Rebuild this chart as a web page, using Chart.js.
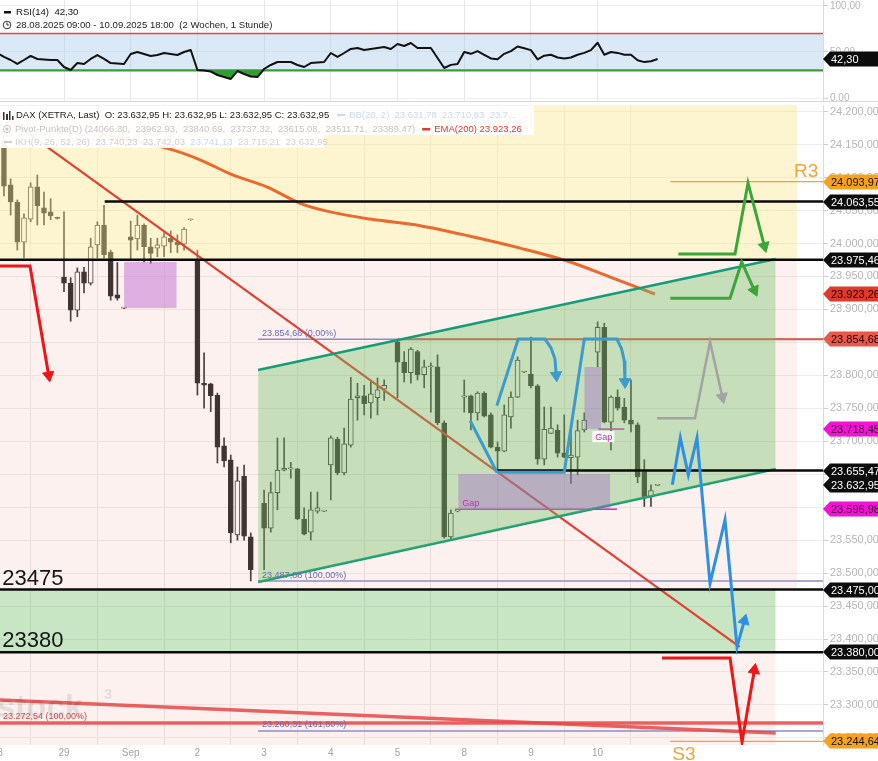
<!DOCTYPE html>
<html><head><meta charset="utf-8">
<script src="https://cdn.jsdelivr.net/npm/chart.js@4.4.1/dist/chart.umd.min.js"></script>
<style>
html,body{margin:0;padding:0;background:#fff;width:878px;height:761px;overflow:hidden;font-family:"Liberation Sans",Arial,sans-serif}
#rsiWrap{position:absolute;left:0;top:0;width:878px;height:102px}
#mainWrap{position:absolute;left:0;top:102px;width:878px;height:659px}
canvas{display:block}
</style></head><body>
<div id="rsiWrap"><canvas id="rsi" width="878" height="102"></canvas></div>
<div id="mainWrap"><canvas id="main" width="878" height="659"></canvas></div>
<script>
// ---------- DATA ----------
const dayTicks  = [0,10,20,30,40,50,60,70,80,90];
const dayLabels = ['28','29','Sep','2','3','4','5','8','9','10'];
const priceTicks = [23250,23300,23350,23400,23450,23500,23550,23600,23650,23700,23750,23800,23850,23900,23950,24000,24050,24100,24150,24200];
const rsiTicks = [0,50,100];

// hourly candles, slot 0 = 28.08. 09:00 (10 slots per day)
const openP = [null,24157,24089,24063,24002,24037,24086,24054,24048,24039,
 23949,23940,23899,23957,23940,23998,24028,23987,23922,23902,
 24010,24007,24028,23995,23993,23996,24008,24002,23999,24036,
 23975,23788,23787,23770,23693,23672,23558,23647,23555,null,
 23606,23568,23622,23656,23658,23658,23582,23562,23594,23594,
 23664,23703,23652,23694,23766,23769,23758,23766,23779,null,
 23851,23820,23804,23836,23801,23813,23813,23728,23555,23594,
 23767,23769,23743,23773,23740,23691,23685,23737,23767,23805,
 23802,23784,23673,23712,23717,23682,23675,23676,23717,null,
 23835,23873,23729,23767,23752,23732,23725,23654,23616,23632.95];
const highP = [null,24164,24098,24066,24045,24092,24104,24078,24068,24040,
 24048,23948,23963,23964,24008,24033,24058,23990,23971,23903,
 24034,24043,24030,24008,24008,24016,24019,24013,24024,24037,
 23990,23834,23788,23773,23705,23679,23661,23664,23561,null,
 23626,23638,23705,23705,23668,23659,23599,23623,23623,23595,
 23708,23706,23720,23797,23788,23785,23790,23796,23793,null,
 23854.68,23836,23842,23838,23823,23819,23831,23731,23596,23595,
 23793,23770,23775,23775,23743,23699,23755,23775,23828,23806,
 23858,23786,23752,23752,23725,23740,23725,23732,23743,null,
 23881,23879,23769,23778,23765,23793,23728,23672,23634,23633.5];
const lowP = [null,24072,24043,23990,23978,24033,24028,24028,24036,24037,
 23927,23882,23889,23925,23937,23978,23978,23914,23914,23901,
 23975,23990,23972,23970,23980,23980,23986,23986,23990,24035,
 23770,23750,23745,23667,23661,23546,23550,23550,23488,null,
 23505,23562,23596,23655,23644,23581,23558,23550,23591,23593,
 23611,23649,23649,23691,23732,23740,23735,23740,23762,null,
 23766,23790,23788,23793,23781,23744,23725,23553,23552,23593,
 23744,23717,23732,23737,23690,23655.47,23684,23720,23766,23804,
 23781,23665,23664,23712,23676,23675,23636,23649,23714,null,
 23813,23728,23687,23747,23728,23714,23637,23601,23601,23632.5];
const closeP = [null,24087,24063,24002,24039,24086,24057,24046,24042,24038,
 23940,23899,23957,23940,23995,24028,23983,23920,23917,23902,
 24005,24028,23995,23985,23998,24010,24002,23998,24022,24036,
 23788,23785,23769,23691,23670,23561,23640,23556,23505,null,
 23568,23622,23656,23659,23658,23582,23559,23596,23599,23594,
 23705,23652,23696,23764,23769,23757,23772,23778,23785,null,
 23820,23804,23840,23801,23813,23814,23728,23555,23591,23594,
 23769,23743,23773,23738,23691,23685,23740,23767,23823,23805,
 23784,23673,23718,23720,23682,23676,23679,23716,23732,null,
 23873,23729,23767,23750,23732,23726,23646,23616,23625,23632.95];

const rsi14 = [48.9,44.6,41.3,37.0,41.3,45.7,42.4,41.8,41.3,41.3,
 33.7,30.4,38.0,37.0,42.4,46.7,42.4,38.0,37.5,37.0,
 47.8,50.0,47.8,45.7,46.7,48.9,47.8,46.7,50.0,52.2,
 30.4,29.9,28.8,25.0,22.8,20.7,29.3,26.1,23.4,22.8,
 31.5,35.9,39.1,39.1,39.1,35.9,33.7,38.0,38.6,39.1,
 48.9,44.6,48.9,53.3,54.3,52.2,53.3,54.3,55.4,53.3,
 58.7,56.5,59.8,54.3,54.3,54.3,43.5,32.6,36.0,37.0,
 50.0,48.0,51.0,47.0,43.0,42.0,48.0,51.0,56.0,54.0,
 52.0,42.0,46.0,47.0,44.0,43.0,44.0,47.0,49.0,52.0,
 60.0,47.0,50.0,49.0,47.0,47.0,41.0,39.0,40.0,42.3];
const rsiUpper = 70, rsiLower = 30, rsiLast = 42.30;

// indicator / drawing points [slot, price]
const ema200 = [[15,24168],[19.9,24157],[26.3,24142],[30.4,24127],[35.3,24104],[40.4,24086],[45.4,24061],[49.9,24048],[55.9,24037],[63.4,24027],[70.9,24011],[78.4,23993],[85.9,23972],[91.9,23949],[98.6,23923.26]];
const trendDown = [[0.4,24198],[111.3,23388]];
const trendLow = [[0.4,23307.5],[116.7,23257.4]];
const channelUpper = [[39.1,23808],[116.7,23976.6]];
const channelLower = [[39.1,23486.6],[116.7,23658]];

const blackLevels = [24063.55,23975.46,23655.47,23475.00,23380.00];
const blackStarts = [16.1,0.4,74.9,0.4,0.4];
const pivotR3 = 24093.97, pivotS3 = 23244.64, pivotStart = 100.9;
const fibLevels = [23854.68,23487.88,23260.31];
const fibStart = 39.1;
const redLevel = 23854.68, redLevelStart = 60;
const red100 = 23272.54;
const gapLines = [[68.6,92.9,23596.98],[90.1,94.0,23718.45]];

const zoneUpperEnd = 119.9, zoneLowerEnd = 116.7;
const zoneYellow = [24300,23975.46];
const zonePink1 = [23975.46,23475];
const zoneGreen = [23475,23380];
const zonePink2 = [23380,23150];
const gapRectA = [19.0,26.9,23972,23902];
const gapRectB = [69.1,91.9,23650.4,23596.98];
const gapRectC = [88.0,90.5,23812.6,23718.45];

const arrowRedLeft = [[0.4,23966],[4.9,23966],[7.7,23800]];
const arrowGreen1 = [[102.1,23984],[110.6,23984],[112.55,24092],[115.0,23996]];
const arrowGreen2 = [[100.9,23917],[109.85,23917],[111.6,23972],[113.5,23929]];
const arrowGrey = [[98.9,23735],[104.6,23735],[106.85,23851],[108.7,23767]];
const arrowBlueM = [[101.2,23634],[102.4,23705],[103.6,23649],[104.9,23705],[106.85,23484],[109.1,23581],[110.9,23388],[112.0,23428]];
const arrowRedLow = [[99.65,23371],[109.85,23371],[111.65,23244],[113.5,23353]];
const dtLeftLeg = [[70.9,23731],[74.9,23653]];
const dtHump1 = [[74.9,23754],[78.1,23855],[82.1,23855],[83.0,23842],[83.6,23825],[83.8,23800]];
const dtHump2 = [[74.9,23653],[85.0,23653],[88.0,23855],[92.9,23855],[93.6,23840],[94.0,23822],[94.1,23790]];

const priceTags = [24093.97,24063.55,23975.46,23923.26,23854.68,23718.45,23655.47,23632.95,23596.98,23475.00,23380.00,23244.64];
const tagKinds  = ['pivot','level','level','ema','red','gap','level','last','gap','level','level','pivot'];
const bigLevelLabels = [23475,23380];

// ---------- HELPERS ----------
function de(v, d){ d = d===undefined?2:d; const s=Math.abs(v).toFixed(d).split('.'); s[0]=s[0].replace(/\B(?=(\d{3})+(?!\d))/g,'.'); return (v<0?'-':'')+s[0]+(d?','+s[1]:''); }
const FONT = '"Liberation Sans", Arial, sans-serif';
const tagStyle = {pivot:['#f6a21d','#111'], level:['#0c0c0c','#fff'], ema:['#e03a2c','#2a0000'], red:['#e8594b','#2a0000'], gap:['#f214d4','#3a0030'], last:['#0c0c0c','#fff']};

function lineDS(pts, color, width, order, extra){
  return Object.assign({type:'line', data: pts.map(p=>({x:p[0], y:p[1]})), borderColor: color, borderWidth: width,
    pointRadius:0, pointHoverRadius:0, fill:false, tension:0, order: order, borderCapStyle:'butt', borderJoinStyle:'round'}, extra||{});
}
function rectDS(r, color, order){
  return lineDS([[r[0],r[2]],[r[1],r[2]]], 'rgba(0,0,0,0)', 0, order, {fill:{value:r[3]}, backgroundColor: color});
}
function zoneDS(x1, band, color, order){
  return lineDS([[0.0,band[0]],[x1,band[0]]], 'rgba(0,0,0,0)', 0, order, {fill:{value:band[1]}, backgroundColor: color});
}
function arrowDS(pts, color, width, order){
  const n = pts.length;
  return lineDS(pts, color, width, order, {
    borderJoinStyle:'miter',
    pointRadius: pts.map((_,k)=> k===n-1 ? 6.5 : 0),
    pointStyle:'triangle', pointBackgroundColor: color, pointBorderColor: color, pointBorderWidth:1,
    pointRotation: (c)=>{
      const d=c.dataset.data, k=c.dataIndex; if(!k) return 0;
      const xs=c.chart.scales.x, ys=c.chart.scales.y;
      const dx=xs.getPixelForValue(d[k].x)-xs.getPixelForValue(d[k-1].x);
      const dy=ys.getPixelForValue(d[k].y)-ys.getPixelForValue(d[k-1].y);
      return Math.atan2(dx,-dy)*180/Math.PI;
    }
  });
}

// ---------- CANDLES ----------
const wickData=[], bodyData=[], bodyFill=[];
for(let i=0;i<openP.length;i++){
  if(openP[i]==null) continue;
  wickData.push({x:i, y:[lowP[i], highP[i]]});
  bodyData.push({x:i, y:[Math.min(openP[i],closeP[i]), Math.max(openP[i],closeP[i])]});
  bodyFill.push(closeP[i]>=openP[i] ? '#ffffff' : '#1b1b1b');
}

const XMIN = 0.405, XMAX = 123.79;
const xAxisBase = {
  type:'linear', min:XMIN, max:XMAX, offset:false,
  afterBuildTicks: s=>{ s.ticks = dayTicks.filter(v=>v>=XMIN).map(v=>({value:v})); },
  ticks:{display:false},
  grid:{color:'#e7e7e7', drawTicks:false}, border:{display:false}
};

// ---------- MAIN CHART ----------
const datasets = [];
datasets.push({type:'bar', data: wickData, backgroundColor:'#2a2a2a', barThickness:1, grouped:false, order:100, borderWidth:0});
datasets.push({type:'bar', data: bodyData, backgroundColor: bodyFill, borderColor:'#222', borderWidth:1, borderSkipped:false, barThickness:5, grouped:false, minBarLength:1, order:99});
datasets.push(zoneDS(zoneUpperEnd, zoneYellow, 'rgba(250,232,150,0.45)', 90));
datasets.push(zoneDS(zoneUpperEnd, zonePink1, 'rgba(240,170,160,0.17)', 90));
datasets.push(zoneDS(zoneLowerEnd, zoneGreen, 'rgba(110,190,100,0.38)', 90));
datasets.push(zoneDS(zoneLowerEnd, zonePink2, 'rgba(240,170,160,0.17)', 90));
datasets.push(rectDS(gapRectA, 'rgba(200,120,215,0.55)', 85));
fibLevels.forEach(v=> datasets.push(lineDS([[fibStart,v],[XMAX+1,v]], '#8c8cc8', 1.5, 62)));
datasets.push(lineDS([[redLevelStart,redLevel],[XMAX+1,redLevel]], '#dc5a46', 2, 61));
datasets.push(lineDS([[0,red100],[XMAX+1,red100]], 'rgba(230,70,70,0.85)', 3.5, 61));
datasets.push(lineDS(trendLow, 'rgba(230,70,70,0.85)', 3.5, 60));
datasets.push(lineDS(ema200, '#ea6a2e', 3, 60, {tension:0.4, cubicInterpolationMode:'monotone'}));
datasets.push(lineDS(trendDown, '#e2402e', 2.2, 60));
gapLines.forEach(g=> datasets.push(lineDS([[g[0],g[2]],[g[1],g[2]]], '#e024c8', 1.5, 58)));
datasets.push(lineDS(channelUpper, '#159c78', 2.5, 50, {fill:'+1', backgroundColor:'rgba(110,190,100,0.38)'}));
datasets.push(lineDS(channelLower, '#159c78', 2.5, 50));
datasets.push(rectDS(gapRectB, 'rgba(160,100,200,0.40)', 45));
datasets.push(rectDS(gapRectC, 'rgba(160,100,200,0.40)', 45));
blackLevels.forEach((v,k)=> datasets.push(lineDS([[blackStarts[k],v],[XMAX+1,v]], '#0a0a0a', 2.5, 30)));
datasets.push(lineDS([[pivotStart,pivotR3],[XMAX+1,pivotR3]], '#f3a42a', 1.2, 30));
datasets.push(lineDS([[pivotStart,pivotS3],[XMAX+1,pivotS3]], '#f3a42a', 1.2, 30));
datasets.push(lineDS(dtLeftLeg, '#3b9ccb', 3, 20));
datasets.push(arrowDS(dtHump1, '#3b9ccb', 3, 20));
datasets.push(arrowDS(dtHump2, '#3b9ccb', 3, 20));
datasets.push(arrowDS(arrowGreen1, '#3ba63a', 3, 20));
datasets.push(arrowDS(arrowGreen2, '#3ba63a', 3, 20));
datasets.push(arrowDS(arrowGrey, '#a3a3a3', 2.5, 20));
datasets.push(arrowDS(arrowBlueM, '#2f8fe3', 3, 20));
datasets.push(arrowDS(arrowRedLow, '#f01414', 3, 20));
datasets.push(arrowDS(arrowRedLeft, '#f01414', 3, 20));

const mainPlugin = {
  id:'mainDeco',
  afterDraw(chart){
    const {ctx} = chart, xs=chart.scales.x, ys=chart.scales.y, ca=chart.chartArea;
    ctx.save();
    // axis labels
    ctx.font = '10px '+FONT; ctx.fillStyle='#a3a3a3'; ctx.textAlign='center'; ctx.textBaseline='middle';
    dayTicks.forEach((v,k)=> ctx.fillText(dayLabels[k], xs.getPixelForValue(v), ca.bottom+8));
    ctx.font = '11px '+FONT; ctx.fillStyle='#b5b5b5'; ctx.textAlign='left';
    priceTicks.forEach(v=> ctx.fillText(de(v), ca.right+7, ys.getPixelForValue(v)));
    ctx.textAlign='left'; ctx.textBaseline='alphabetic';
    // watermark
    ctx.font = 'bold 33px '+FONT; ctx.fillStyle='rgba(0,0,0,0.09)';
    ctx.fillText('stock', -3, ys.getPixelForValue(23300)+13);
    ctx.font = 'bold 15px '+FONT; ctx.fillText('3', 104, ys.getPixelForValue(23300)-6);
    // big level labels
    ctx.font = '22px '+FONT; ctx.fillStyle='#151515';
    bigLevelLabels.forEach(v=> ctx.fillText(String(v), xs.getPixelForValue(0.75), ys.getPixelForValue(v)-5));
    // pivot labels
    ctx.font = '19px '+FONT; ctx.fillStyle='#f1a43a';
    ctx.textAlign='right'; ctx.fillText('R3', xs.getPixelForValue(123.1), ys.getPixelForValue(pivotR3)-5);
    ctx.textAlign='left'; ctx.fillText('S3', xs.getPixelForValue(101.2), ys.getPixelForValue(pivotS3)+19);
    // fib labels
    ctx.font = '9px '+FONT; ctx.fillStyle='#6a6ab0';
    const fibPct = ['0,00%','100,00%','161,80%'];
    fibLevels.forEach((v,k)=> ctx.fillText(de(v)+' ('+fibPct[k]+')', xs.getPixelForValue(fibStart)+4, ys.getPixelForValue(v)-(k===2?4:3)));
    ctx.fillStyle='#d04a4a';
    ctx.fillText(de(red100)+' (100,00%)', 3, ys.getPixelForValue(red100)-4);
    // gap labels
    ctx.fillStyle='#d21fc8';
    ctx.fillText('Gap', xs.getPixelForValue(gapRectB[0])+4, ys.getPixelForValue(gapLines[0][2])-3);
    const gx = xs.getPixelForValue(gapLines[1][0])-6, gy = ys.getPixelForValue(gapLines[1][2]);
    ctx.fillStyle='rgba(255,255,255,0.9)'; ctx.fillRect(gx, gy+2, 22, 11);
    ctx.fillStyle='#d21fc8'; ctx.fillText('Gap', gx+3, gy+11);
    // price tags
    ctx.font = '11px '+FONT; ctx.textBaseline='middle';
    priceTags.forEach((v,k)=>{
      const y = Math.round(ys.getPixelForValue(v)), x0 = ca.right; const st = tagStyle[tagKinds[k]];
      ctx.fillStyle = st[0];
      ctx.beginPath(); ctx.moveTo(x0,y); ctx.lineTo(x0+7,y-7.5); ctx.lineTo(878,y-7.5); ctx.lineTo(878,y+7.5); ctx.lineTo(x0+7,y+7.5); ctx.closePath(); ctx.fill();
      ctx.fillStyle = st[1]; ctx.fillText(de(v), x0+8, y+0.5);
    });
    // legend box
    ctx.fillStyle='rgba(255,255,255,0.93)';
    ctx.fillRect(0,4,534,29); ctx.fillRect(0,33,324,13);
    ctx.textBaseline='middle'; ctx.font='9.5px '+FONT;
    ctx.fillStyle='#333'; ctx.fillRect(3,10,1.5,8); ctx.fillRect(6,12,2,6); ctx.fillRect(9,9,1.5,9); ctx.fillRect(12,14,1.5,4);
    let x = 16; const row1 = 13;
    ctx.fillStyle='#1a1a1a';
    const t1 = 'DAX (XETRA, Last)  O: 23.632,95 H: 23.632,95 L: 23.632,95 C: 23.632,95';
    ctx.fillText(t1, x, row1); x += ctx.measureText(t1).width + 8;
    ctx.fillStyle='#c9daf0'; ctx.fillRect(x, row1-1, 8, 2); x+=12;
    ctx.fillText('BB(20, 2)  23.631,78  23.710,83  23.7...', x, row1);
    const row2 = 27;
    ctx.strokeStyle='#c4c4c4'; ctx.lineWidth=1; ctx.beginPath(); ctx.arc(7,row2,3.5,0,Math.PI*2); ctx.stroke();
    ctx.fillStyle='#c4c4c4'; ctx.beginPath(); ctx.arc(7,row2,1.6,0,Math.PI*2); ctx.fill();
    x = 15;
    const t2 = 'Pivot-Punkte(D) (24066.30,  23962.93,  23840.69,  23737.32,  23615.08,  23511.71,  23389.47)';
    ctx.fillText(t2, x, row2); x += ctx.measureText(t2).width + 7;
    ctx.fillStyle='#e03a30'; ctx.fillRect(x, row2-1, 8, 2.5); x+=12;
    ctx.fillText('EMA(200) 23.923,26', x, row2);
    const row3 = 40;
    ctx.fillStyle='#cfcfd6'; ctx.fillRect(4,row3-1,8,2);
    const t3 = 'IKH(9, 26, 52, 26)  23.740,23  23.742,03  ';
    ctx.fillText(t3, 15, row3);
    const w3 = ctx.measureText(t3).width;
    ctx.fillStyle='#c6dbef'; ctx.fillText('23.741,13', 15+w3, row3);
    const w4 = ctx.measureText('23.741,13  ').width;
    ctx.fillStyle='#d3d3d8'; ctx.fillText('23.715,21  23.632,95', 15+w3+w4, row3);
    ctx.restore();
  }
};

new Chart(document.getElementById('main'), {
  type:'line',
  data:{datasets},
  options:{
    responsive:false, animation:false, events:[], devicePixelRatio:1,
    layout:{autoPadding:false, padding:{top:3,left:0,right:0,bottom:0}},
    plugins:{legend:{display:false}, tooltip:{enabled:false}},
    scales:{
      x: Object.assign({}, xAxisBase, { afterFit: s=>{ s.height=16; } }),
      y:{type:'linear', position:'right', min:23239.2, max:24210.1,
        afterBuildTicks: s=>{ s.ticks = priceTicks.map(v=>({value:v})); },
        afterFit: s=>{ s.width=55; },
        ticks:{display:false},
        grid:{color:'#ececec', tickColor:'#cdcdcd', tickLength:5, drawTicks:true},
        border:{display:true, color:'#dadada'}
      }
    }
  },
  plugins:[mainPlugin]
});

// ---------- RSI CHART ----------
const rsiPlugin = {
  id:'rsiDeco',
  afterDraw(chart){
    const {ctx} = chart, ys=chart.scales.y, ca=chart.chartArea;
    ctx.save();
    ctx.font='10px '+FONT; ctx.fillStyle='#b5b5b5'; ctx.textAlign='left'; ctx.textBaseline='middle';
    rsiTicks.forEach(v=> ctx.fillText(de(v), ca.right+7, ys.getPixelForValue(v)));
    ctx.font='9.6px '+FONT;
    ctx.fillStyle='#111'; ctx.fillRect(4,11,7,2.5);
    ctx.fillText('RSI(14)  '+de(rsiLast), 16, 12);
    ctx.strokeStyle='#333'; ctx.lineWidth=1; ctx.beginPath(); ctx.arc(7,25,3.8,0,Math.PI*2); ctx.stroke();
    ctx.beginPath(); ctx.moveTo(7,22.5); ctx.lineTo(7,25); ctx.lineTo(9,25); ctx.stroke();
    ctx.fillStyle='#222';
    ctx.fillText('28.08.2025 09:00 - 10.09.2025 18:00  (2 Wochen, 1 Stunde)', 16, 25);
    const y = Math.round(ys.getPixelForValue(rsiLast)), x0=ca.right;
    ctx.fillStyle='#0c0c0c';
    ctx.beginPath(); ctx.moveTo(x0,y); ctx.lineTo(x0+7,y-7.5); ctx.lineTo(878,y-7.5); ctx.lineTo(878,y+7.5); ctx.lineTo(x0+7,y+7.5); ctx.closePath(); ctx.fill();
    ctx.fillStyle='#fff'; ctx.font='11px '+FONT; ctx.fillText(de(rsiLast), x0+8, y+0.5);
    ctx.fillStyle='#d6d6d6'; ctx.fillRect(0,101,878,1);
    ctx.restore();
  }
};

const rsiPts = rsi14.map((v,i)=>[i,v]);
new Chart(document.getElementById('rsi'), {
  type:'line',
  data:{datasets:[
    lineDS([[0,rsiUpper],[XMAX+1,rsiUpper]], 'rgba(0,0,0,0)', 0, 50, {fill:{value:rsiLower}, backgroundColor:'rgba(175,205,235,0.45)'}),
    lineDS([[0,rsiUpper],[XMAX+1,rsiUpper]], '#e04545', 1.5, 40),
    lineDS([[0,rsiLower],[XMAX+1,rsiLower]], '#3c9c3c', 2.2, 40),
    lineDS(rsiPts, '#111', 2, 30, {fill:{target:{value:rsiLower}, above:'rgba(0,0,0,0)', below:'#2f9e2f'}})
  ]},
  options:{
    responsive:false, animation:false, events:[], devicePixelRatio:1,
    layout:{autoPadding:false, padding:{top:0,left:0,right:0,bottom:1}},
    plugins:{legend:{display:false}, tooltip:{enabled:false}},
    scales:{
      x: Object.assign({}, xAxisBase, { afterFit: s=>{ s.height=0; } }),
      y:{type:'linear', position:'right', min:-3.26, max:106.5,
        afterBuildTicks: s=>{ s.ticks = rsiTicks.map(v=>({value:v})); },
        afterFit: s=>{ s.width=55; },
        ticks:{display:false},
        grid:{color:'#eeeeee', tickColor:'#cdcdcd', tickLength:5},
        border:{display:true, color:'#dadada'}
      }
    }
  },
  plugins:[rsiPlugin]
});
</script>
</body></html>
